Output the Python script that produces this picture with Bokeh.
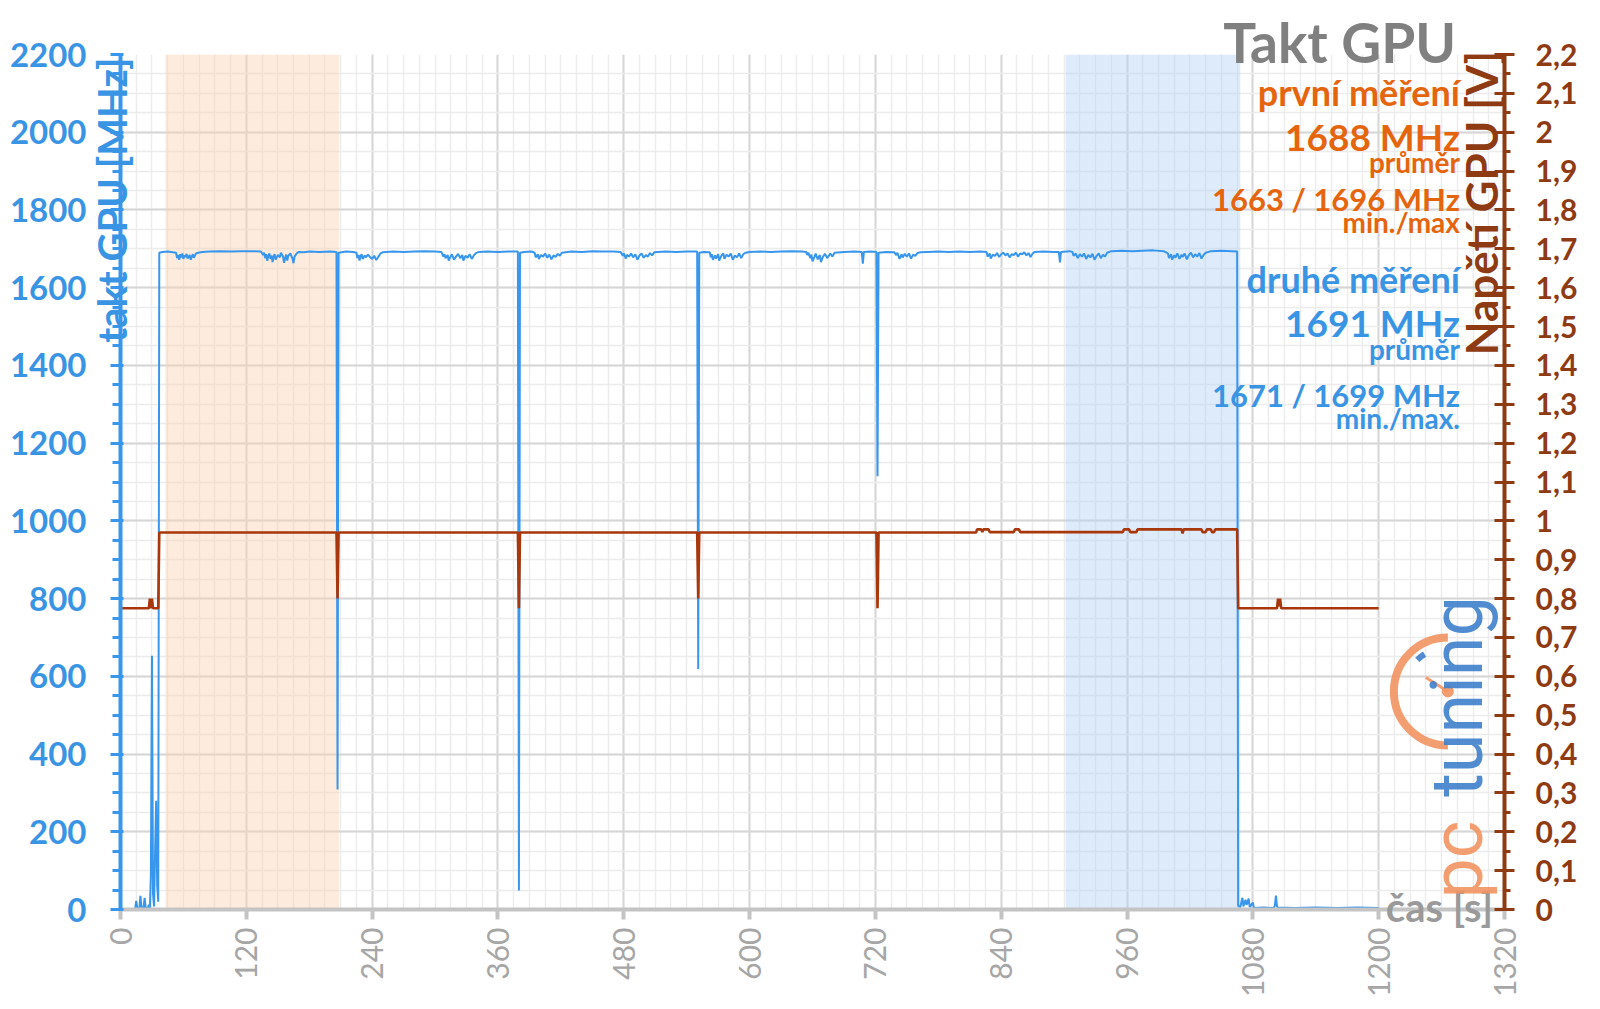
import math
from bokeh.plotting import figure
from bokeh.models import (Range1d, LinearAxis, FixedTicker, BoxAnnotation, Label,
                          CustomJSTickFormatter, Axis)
from bokeh.embed import file_html
from bokeh.resources import INLINE

# ---------------- data ----------------
# GPU clock [MHz] over time [s]
clock_t = [
    0, 4, 8, 12, 14, 15, 16, 18, 19, 20, 22, 23, 24, 26, 27, 28, 29, 30, 31, 32, 33, 34, 35, 36,
    37, 40, 45, 50, 53, 54, 55, 56, 57, 58, 59, 60, 61, 62, 63, 64, 66, 67, 68, 69, 70, 72, 74, 78,
    85, 95, 105, 115, 125, 134, 136, 137, 138, 139, 140, 141, 142, 143, 144, 145, 146, 147, 148, 150,
    152, 153, 155, 156, 157, 158, 159, 160, 162, 164, 165, 166, 168, 170, 175, 180, 190, 200, 206,
    207, 208, 215, 222, 225, 226, 227, 228, 229, 230, 231, 233, 234, 236, 238, 240, 242, 244, 246, 248, 250,
    260, 270, 280, 290, 300, 306, 308, 309, 310, 312, 313, 315, 316, 318, 320, 322, 324, 326, 327, 329,
    331, 333, 335, 337, 339, 342, 350, 360, 370, 379,
    380, 381, 385, 392, 395, 396, 398, 399, 401, 403, 405, 407, 409, 411, 413, 415, 417, 419, 421,
    430, 440, 450, 460, 470, 477, 479, 480, 482, 483, 485, 487, 489, 491, 493, 495, 497, 499, 501, 503, 505, 507, 509,
    520, 530, 540, 550,
    551, 552, 556, 562, 563, 564, 565, 567, 568, 570, 571, 573, 575, 576, 578, 580, 582, 584, 586, 588, 590, 592, 594, 596,
    600, 610, 620, 630, 640, 650, 654, 655, 656, 658, 659, 660, 662, 663, 665, 667, 668, 670, 672, 674, 676, 677, 679, 681,
    690, 700, 707, 708, 709, 715, 721,
    722, 723, 730, 738, 740, 741, 743, 745, 746, 748, 750, 752, 754, 756, 758, 760, 763,
    770, 780, 790, 800, 810, 820, 826, 827, 829, 830, 832, 834, 836, 838, 840, 842, 844, 846, 848, 850,
    852, 854, 856, 858, 860, 862, 864, 866, 868, 870, 872, 880, 890, 895, 896, 897, 905, 908,
    909, 911, 913, 915, 917, 919, 921, 923, 925, 927, 929, 931, 933, 935, 937, 939, 941, 945,
    955, 965, 975, 985, 995, 999, 1000, 1002, 1003, 1005, 1006, 1008, 1010, 1012, 1013, 1015, 1017, 1019,
    1021, 1023, 1025, 1027, 1029, 1031, 1033, 1035, 1040, 1050, 1060, 1065,
    1066, 1068, 1070, 1071, 1073, 1074, 1076, 1077, 1080, 1081, 1090, 1100, 1101, 1102, 1103, 1104, 1120, 1140, 1160, 1180, 1200,
]
clock_mhz = [
    0, 0, 1, 0, 3, 22, 4, 3, 35, 6, 4, 30, 5, 2, 12, 4, 90, 653, 40, 8, 150, 280, 60, 20,
    1690, 1692, 1693, 1691, 1690, 1676, 1684, 1672, 1686, 1678, 1688, 1674, 1683, 1679, 1687, 1675, 1684, 1672, 1680, 1686, 1677, 1688, 1690, 1692,
    1693, 1694, 1693, 1694, 1694, 1693, 1684, 1690, 1676, 1686, 1669, 1682, 1688, 1674, 1683, 1666, 1680, 1686, 1672, 1684,
    1678, 1690, 1680, 1664, 1676, 1685, 1670, 1682, 1688, 1675, 1663, 1680, 1688, 1692, 1691, 1693, 1692, 1693, 1692,
    309, 1690, 1693, 1692, 1690, 1676, 1684, 1670, 1682, 1686, 1674, 1683, 1678, 1685, 1679, 1674, 1682, 1671, 1680, 1688, 1691,
    1693, 1692, 1693, 1694, 1693, 1692, 1680, 1686, 1676, 1684, 1670, 1681, 1686, 1672, 1680, 1687, 1676, 1684, 1670, 1682,
    1677, 1686, 1674, 1683, 1689, 1692, 1693, 1692, 1693, 1693,
    49, 1690, 1692, 1693, 1690, 1678, 1686, 1674, 1684, 1680, 1688, 1677, 1685, 1673, 1683, 1679, 1687, 1682, 1690,
    1693, 1692, 1694, 1693, 1693, 1692, 1682, 1688, 1675, 1685, 1680, 1688, 1678, 1686, 1672, 1683, 1688, 1677, 1684, 1680, 1689, 1683, 1691,
    1693, 1692, 1693, 1693,
    619, 1690, 1692, 1691, 1678, 1686, 1672, 1683, 1675, 1686, 1670, 1682, 1688, 1674, 1685, 1680, 1688, 1672, 1683, 1678, 1688, 1676, 1686, 1690,
    1692, 1693, 1692, 1693, 1694, 1693, 1692, 1684, 1690, 1676, 1685, 1668, 1680, 1688, 1673, 1684, 1666, 1680, 1687, 1676, 1684, 1688, 1680, 1690,
    1692, 1693, 1692, 1662, 1692, 1693, 1692,
    1115, 1690, 1692, 1691, 1684, 1690, 1674, 1686, 1678, 1687, 1680, 1688, 1675, 1685, 1682, 1689, 1691,
    1692, 1693, 1692, 1693, 1692, 1693, 1692, 1680, 1688, 1675, 1685, 1682, 1689, 1679, 1686, 1690, 1683, 1688, 1678, 1686,
    1684, 1690, 1680, 1688, 1686, 1691, 1683, 1689, 1679, 1688, 1692, 1693, 1692, 1692, 1665, 1692, 1694, 1692,
    1682, 1688, 1676, 1686, 1680, 1688, 1674, 1684, 1678, 1687, 1672, 1682, 1688, 1676, 1685, 1680, 1690, 1694,
    1695, 1694, 1695, 1696, 1694, 1688, 1676, 1686, 1672, 1684, 1677, 1688, 1674, 1685, 1679, 1688, 1673, 1684,
    1690, 1678, 1686, 1680, 1689, 1675, 1684, 1690, 1694, 1695, 1694, 1693,
    10, 6, 30, 8, 25, 12, 28, 6, 18, 4, 5, 4, 10, 36, 8, 5, 4, 5, 4, 5, 4,
]

# GPU voltage [V] over time [s]
volt_t = [
    0, 27, 28, 29, 30, 31, 36, 37,
    206, 207, 208,
    379, 380, 381,
    550, 551, 552,
    721, 722, 723,
    816, 817, 821, 822, 823, 828, 829, 852, 853, 857, 858,
    956, 957, 962, 963, 969, 970, 1012, 1013, 1014, 1031, 1032, 1035, 1036, 1040, 1041, 1043, 1044, 1065,
    1066, 1103, 1104, 1105, 1106, 1107, 1200,
]
volt_v = [
    0.775, 0.775, 0.8, 0.775, 0.8, 0.775, 0.775, 0.97,
    0.97, 0.8, 0.97,
    0.97, 0.775, 0.97,
    0.97, 0.8, 0.97,
    0.97, 0.775, 0.97,
    0.97, 0.978, 0.978, 0.971, 0.978, 0.978, 0.971, 0.971, 0.978, 0.978, 0.971,
    0.971, 0.978, 0.978, 0.971, 0.971, 0.978, 0.978, 0.968, 0.978, 0.978, 0.971, 0.971, 0.978, 0.978, 0.971, 0.971, 0.978, 0.978,
    0.775, 0.775, 0.8, 0.78, 0.8, 0.775, 0.775,
]

# measurement windows [s]
first_window = [42.8, 208.4]
second_window = [901.6, 1068.0]

x_ticks = list(range(0, 1321, 120))
x_minor = list(range(0, 1321, 15))
mhz_ticks = list(range(0, 2201, 200))
mhz_minor = list(range(0, 2201, 50))
volt_ticks = [round(i * 0.1, 1) for i in range(23)]
volt_minor = [round(i * 0.05, 2) for i in range(45)]

title_text = "Takt GPU"
left_label = "takt GPU [MHz]"
right_label = "Napětí GPU [V]"
x_label = "čas [s]"
first_texts = ["první měření", "1688 MHz", "průměr", "1663 / 1696 MHz", "min./max"]
second_texts = ["druhé měření", "1691 MHz", "průměr", "1671 / 1699 MHz", "min./max."]

# ---------------- style ----------------
BLUE = "#3896EC"
BLUE_TXT = "#3A94E4"
BROWN_LINE = "#A8370B"
BROWN_AX = "#8E3A12"
ORANGE = "#E5650E"
GRAY = "#A6A6A6"
FONT = "Lato"
NB = "\u00a0"

HAS_ALIGN = "axis_label_align" in Axis.properties()


def center_label(ax):
    if HAS_ALIGN:
        try:
            ax.axis_label_align = "center"
        except Exception:
            pass


p = figure(frame_width=1384, frame_height=855,
           x_range=Range1d(0, 1320), y_range=Range1d(0, 2200),
           output_backend="svg", toolbar_location=None,
           min_border_left=120, min_border_right=96,
           min_border_top=54, min_border_bottom=100,
           background_fill_color="white", border_fill_color="white")
p.outline_line_color = None
p.extra_y_ranges = {"v": Range1d(0, 2.2)}

# grids
p.xgrid.ticker = FixedTicker(ticks=x_ticks, minor_ticks=x_minor)
p.ygrid.ticker = FixedTicker(ticks=mhz_ticks, minor_ticks=mhz_minor)
for g in (p.xgrid[0], p.ygrid[0]):
    g.grid_line_color = "#D6D6D6"
    g.grid_line_width = 2
    g.minor_grid_line_color = "#ECECEC"
    g.minor_grid_line_width = 1.5

# bands
p.add_layout(BoxAnnotation(left=first_window[0], right=first_window[1],
                           fill_color="#FAD3B3", fill_alpha=0.45, line_color=None,
                           level="underlay"))
p.add_layout(BoxAnnotation(left=second_window[0], right=second_window[1],
                           fill_color="#B5D3F7", fill_alpha=0.45, line_color=None,
                           level="underlay"))

# bottom axis (its label sits at the right end, on the axis line)
xa = p.xaxis[0]
xa.ticker = FixedTicker(ticks=x_ticks)
xa.axis_line_color = "#C4C4C4"
xa.axis_line_width = 4
xa.major_tick_line_color = "#C4C4C4"
xa.major_tick_line_width = 4
xa.major_tick_out = 10
xa.major_tick_in = 0
xa.minor_tick_line_color = None
xa.major_label_orientation = math.pi / 2
xa.major_label_text_font = FONT
xa.major_label_text_font_size = "30px"
xa.major_label_text_color = GRAY
xa.major_label_standoff = 8
xa.axis_label_text_font = FONT
xa.axis_label_text_font_style = "bold"
xa.axis_label_text_font_size = "40px"
xa.axis_label_text_color = "#9A9A9A"
xa.axis_label_standoff = -117
center_label(xa)
xa.axis_label = NB * 129 + x_label

# left axis
ya = p.yaxis[0]
ya.ticker = FixedTicker(ticks=mhz_ticks, minor_ticks=mhz_minor)
ya.axis_line_color = BLUE
ya.axis_line_width = 4
ya.major_tick_line_color = BLUE
ya.major_tick_line_width = 3
ya.major_tick_out = 10
ya.major_tick_in = 3
ya.minor_tick_line_color = BLUE
ya.minor_tick_line_width = 3
ya.minor_tick_out = 8
ya.minor_tick_in = 0
ya.major_label_text_font = FONT
ya.major_label_text_font_style = "bold"
ya.major_label_text_font_size = "33px"
ya.major_label_text_color = BLUE_TXT
ya.major_label_standoff = 24
ya.axis_label_text_font = FONT
ya.axis_label_text_font_style = "bold"
ya.axis_label_text_font_size = "40px"
ya.axis_label_text_color = BLUE_TXT
ya.axis_label_standoff = -129
center_label(ya)
ya.axis_label = NB * 58 + left_label

# right axis
ra = LinearAxis(y_range_name="v",
                ticker=FixedTicker(ticks=volt_ticks, minor_ticks=volt_minor),
                formatter=CustomJSTickFormatter(code="""
                    const s = (Math.round(tick * 10) / 10).toString();
                    return s.replace('.', ',');
                """))
ra.axis_line_color = BROWN_AX
ra.axis_line_width = 4
ra.major_tick_line_color = BROWN_AX
ra.major_tick_line_width = 3
ra.major_tick_out = 10
ra.major_tick_in = 10
ra.minor_tick_line_color = BROWN_AX
ra.minor_tick_line_width = 3
ra.minor_tick_out = 6
ra.minor_tick_in = 0
ra.major_label_text_font = FONT
ra.major_label_text_font_style = "bold"
ra.major_label_text_font_size = "30px"
ra.major_label_text_color = BROWN_AX
ra.major_label_standoff = 21
p.add_layout(ra, "right")

# top axis carrying only the chart title
ta = LinearAxis(ticker=FixedTicker(ticks=[]))
ta.axis_line_color = None
ta.major_tick_line_color = None
ta.minor_tick_line_color = None
ta.major_label_text_font_size = "0px"
ta.axis_label_text_font = FONT
ta.axis_label_text_font_style = "bold"
ta.axis_label_text_font_size = "55px"
ta.axis_label_text_color = "#808080"
ta.axis_label_standoff = -20
center_label(ta)
ta.axis_label = NB * 79 + title_text
p.add_layout(ta, "above")

# series
p.line(clock_t, clock_mhz, line_color=BLUE, line_width=2)
p.line(volt_t, volt_v, line_color=BROWN_LINE, line_width=2.6, y_range_name="v")

# logo (decoration)
logo_orange = "#F29462"
logo_blue = "#3F7FCB"
p.arc(x=[1266], y=[561], radius=54, radius_units="screen",
      start_angle=math.pi / 2, end_angle=3 * math.pi / 2,
      line_color=logo_orange, line_width=8, line_alpha=0.9)
p.arc(x=[1266], y=[561], radius=44, radius_units="screen",
      start_angle=math.radians(122), end_angle=math.radians(134),
      line_color=logo_blue, line_width=6, line_alpha=0.9)
p.segment(x0=[1266], y0=[561], x1=[1245], y1=[597],
          line_color=logo_orange, line_width=3, line_alpha=0.9)
p.scatter(x=[1266], y=[561], size=11, color=logo_orange, alpha=0.9)
p.add_layout(Label(x=1275, y=28, text="pc", angle=math.pi / 2,
                   text_align="left", text_baseline="middle",
                   text_font="Roboto", text_font_size="72px",
                   text_color=logo_orange, text_alpha=0.9))
p.add_layout(Label(x=1275, y=290, text="tuning", angle=math.pi / 2,
                   text_align="left", text_baseline="middle",
                   text_font="Roboto", text_font_size="72px",
                   text_color=logo_blue, text_alpha=0.9))

# right axis title (inside the frame, next to the axis)
p.add_layout(Label(x=1298, y=1818, text=right_label, angle=math.pi / 2,
                   text_align="center", text_baseline="middle",
                   text_font=FONT, text_font_style="bold", text_font_size="44px",
                   text_color=BROWN_AX))

# summary texts
sizes = ["36px", "37px", "28px", "31px", "28px"]
first_y = [2103, 1990, 1924, 1827, 1769]
second_y = [1622, 1510, 1441, 1323, 1265]
for txt, yy, sz in zip(first_texts, first_y, sizes):
    p.add_layout(Label(x=1277.5, y=yy, text=txt, text_align="right",
                       text_baseline="middle", text_font=FONT,
                       text_font_style="bold", text_font_size=sz,
                       text_color=ORANGE))
for txt, yy, sz in zip(second_texts, second_y, sizes):
    p.add_layout(Label(x=1277.5, y=yy, text=txt, text_align="right",
                       text_baseline="middle", text_font=FONT,
                       text_font_style="bold", text_font_size=sz,
                       text_color=BLUE_TXT))

open("out.html", "w").write(file_html(p, INLINE))
